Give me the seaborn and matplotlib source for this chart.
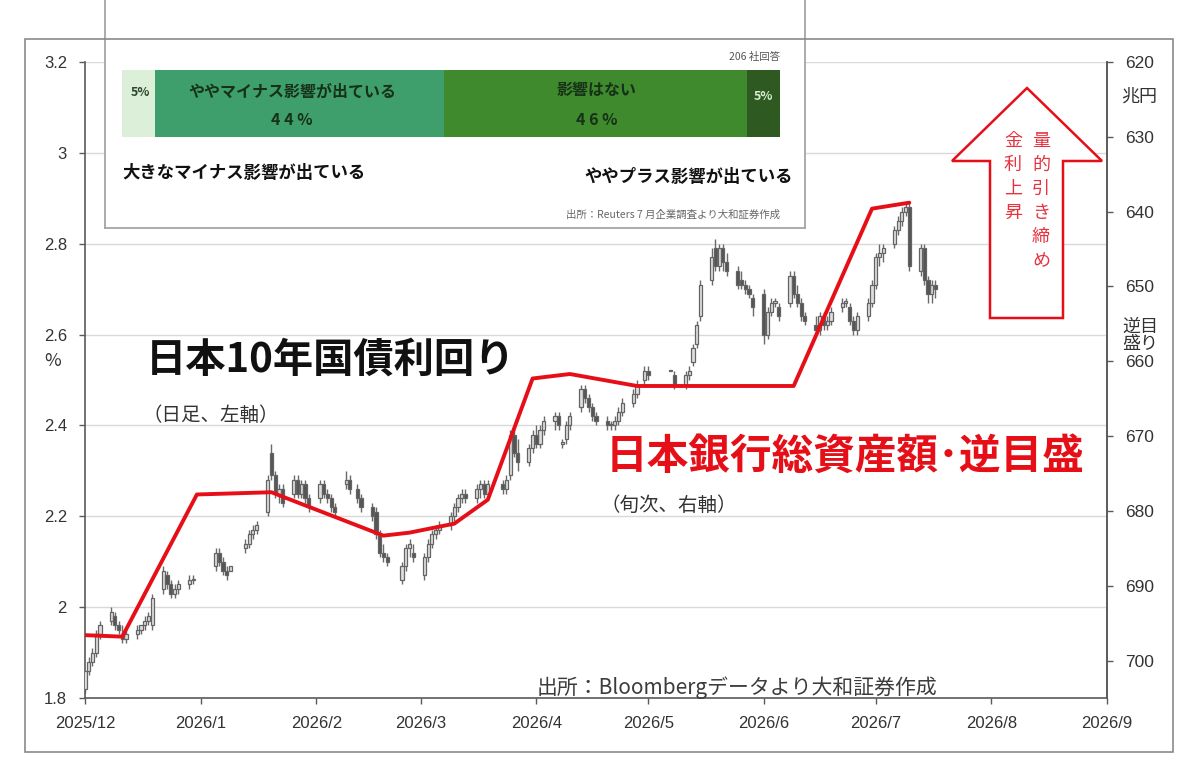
import pandas as pd
import matplotlib
matplotlib.use("Agg")
import matplotlib.pyplot as plt
import matplotlib.dates as mdates
from matplotlib.patches import Rectangle, Polygon
import seaborn as sns

sns.set_theme(style="ticks")
plt.rcParams["font.family"] = ["Noto Sans CJK JP", "DejaVu Sans"]

# %% data: JGB 10y yield, daily candles (Dec 2025 - Jul 2026)
holidays = ["2025-12-31", "2026-01-01", "2026-01-02", "2026-01-12", "2026-02-11",
            "2026-02-23", "2026-03-20", "2026-04-29", "2026-05-04", "2026-05-05",
            "2026-05-06"]

opens = [
    1.82, 1.86, 1.88, 1.90, 1.94, 1.97, 1.98, 1.96, 1.94, 1.93, 1.94, 1.95, 1.96, 1.97, 1.96,
    2.04, 2.07, 2.05, 2.03, 2.04, 2.05, 2.06,
    2.09, 2.12, 2.10, 2.08, 2.08, 2.13, 2.14, 2.16, 2.17, 2.21, 2.34, 2.29, 2.25, 2.26,
    2.25, 2.28, 2.25, 2.27, 2.24,
    2.24, 2.27, 2.25, 2.24, 2.22, 2.27, 2.28, 2.26, 2.24, 2.22, 2.21, 2.16, 2.12, 2.11,
    2.06, 2.09, 2.13, 2.12,
    2.07, 2.11, 2.14, 2.16, 2.17, 2.18, 2.20, 2.22, 2.24, 2.25, 2.24, 2.26, 2.27, 2.25,
    2.27, 2.26, 2.29, 2.38, 2.34, 2.32, 2.35,
    2.38, 2.36, 2.39, 2.41, 2.42, 2.36, 2.37, 2.40, 2.44, 2.48, 2.46, 2.44, 2.42, 2.41,
    2.40, 2.40, 2.41, 2.43, 2.45, 2.47, 2.50,
    2.52, 2.52, 2.51, 2.49, 2.51, 2.54, 2.58, 2.64, 2.72, 2.79, 2.75, 2.79, 2.76, 2.74,
    2.72, 2.71, 2.70, 2.68,
    2.69, 2.60, 2.65, 2.67, 2.66, 2.67, 2.73, 2.69, 2.67, 2.64, 2.62, 2.61, 2.64, 2.62,
    2.63, 2.66, 2.67, 2.66, 2.63, 2.61, 2.64, 2.67,
    2.71, 2.77, 2.78, 2.80, 2.83, 2.85, 2.87, 2.88, 2.74, 2.79, 2.72, 2.69, 2.71,
]
highs = [
    1.86, 1.89, 1.91, 1.95, 1.97, 2.00, 1.99, 1.97, 1.96, 1.95, 1.96, 1.96, 1.98, 1.99, 2.03,
    2.09, 2.08, 2.06, 2.05, 2.06, 2.07, 2.07,
    2.13, 2.13, 2.11, 2.09, 2.09, 2.15, 2.17, 2.18, 2.19, 2.29, 2.36, 2.30, 2.27, 2.27,
    2.29, 2.29, 2.28, 2.28, 2.25,
    2.28, 2.28, 2.26, 2.25, 2.23, 2.30, 2.29, 2.27, 2.25, 2.23, 2.22, 2.17, 2.14, 2.12,
    2.10, 2.14, 2.15, 2.14,
    2.12, 2.15, 2.17, 2.18, 2.19, 2.21, 2.23, 2.25, 2.26, 2.26, 2.27, 2.28, 2.28, 2.28,
    2.28, 2.29, 2.39, 2.40, 2.37, 2.36, 2.39,
    2.40, 2.40, 2.42, 2.43, 2.43, 2.37, 2.41, 2.43, 2.49, 2.49, 2.47, 2.45, 2.43, 2.42,
    2.41, 2.42, 2.44, 2.46, 2.48, 2.50, 2.53,
    2.53, 2.52, 2.52, 2.52, 2.53, 2.58, 2.63, 2.72, 2.79, 2.81, 2.80, 2.80, 2.78, 2.75,
    2.74, 2.72, 2.71, 2.69,
    2.70, 2.66, 2.68, 2.68, 2.67, 2.74, 2.74, 2.71, 2.68, 2.65, 2.64, 2.65, 2.65, 2.64,
    2.66, 2.68, 2.68, 2.67, 2.64, 2.65, 2.68, 2.72,
    2.78, 2.80, 2.80, 2.84, 2.86, 2.88, 2.89, 2.89, 2.80, 2.80, 2.73, 2.72, 2.72,
]
lows = [
    1.81, 1.85, 1.87, 1.89, 1.93, 1.96, 1.95, 1.94, 1.92, 1.92, 1.93, 1.94, 1.95, 1.96, 1.95,
    2.03, 2.04, 2.02, 2.02, 2.03, 2.04, 2.05,
    2.08, 2.09, 2.07, 2.06, 2.08, 2.12, 2.13, 2.15, 2.16, 2.20, 2.28, 2.24, 2.23, 2.22,
    2.24, 2.24, 2.24, 2.23, 2.21,
    2.23, 2.24, 2.23, 2.21, 2.20, 2.26, 2.25, 2.23, 2.21, 2.19, 2.15, 2.11, 2.10, 2.09,
    2.05, 2.08, 2.11, 2.10,
    2.06, 2.10, 2.13, 2.15, 2.16, 2.17, 2.19, 2.21, 2.23, 2.23, 2.23, 2.24, 2.24, 2.25,
    2.25, 2.25, 2.28, 2.33, 2.30, 2.31, 2.34,
    2.35, 2.35, 2.38, 2.39, 2.39, 2.35, 2.36, 2.39, 2.43, 2.45, 2.43, 2.41, 2.40, 2.39,
    2.39, 2.39, 2.40, 2.42, 2.44, 2.46, 2.49,
    2.50, 2.52, 2.48, 2.48, 2.50, 2.53, 2.57, 2.63, 2.71, 2.74, 2.74, 2.74, 2.73, 2.70,
    2.70, 2.69, 2.68, 2.64,
    2.58, 2.59, 2.64, 2.66, 2.63, 2.66, 2.68, 2.66, 2.63, 2.62, 2.60, 2.60, 2.61, 2.61,
    2.62, 2.65, 2.66, 2.62, 2.60, 2.60, 2.63, 2.66,
    2.70, 2.75, 2.76, 2.79, 2.82, 2.84, 2.86, 2.74, 2.73, 2.71, 2.67, 2.67, 2.68,
]
closes = [
    1.86, 1.88, 1.90, 1.94, 1.96, 1.99, 1.96, 1.95, 1.93, 1.94, 1.95, 1.96, 1.97, 1.98, 2.02,
    2.08, 2.05, 2.03, 2.04, 2.05, 2.06, 2.06,
    2.12, 2.10, 2.08, 2.07, 2.09, 2.14, 2.16, 2.17, 2.18, 2.28, 2.29, 2.25, 2.26, 2.23,
    2.28, 2.25, 2.27, 2.24, 2.22,
    2.27, 2.25, 2.24, 2.22, 2.21, 2.28, 2.26, 2.24, 2.22, 2.20, 2.16, 2.12, 2.11, 2.10,
    2.09, 2.13, 2.14, 2.11,
    2.11, 2.14, 2.16, 2.17, 2.18, 2.20, 2.22, 2.24, 2.25, 2.24, 2.26, 2.27, 2.25, 2.27,
    2.26, 2.28, 2.38, 2.34, 2.32, 2.35, 2.38,
    2.36, 2.39, 2.41, 2.42, 2.40, 2.36, 2.40, 2.42, 2.48, 2.46, 2.44, 2.42, 2.41, 2.40,
    2.40, 2.41, 2.43, 2.45, 2.47, 2.49, 2.52,
    2.51, 2.52, 2.49, 2.51, 2.52, 2.57, 2.62, 2.71, 2.77, 2.75, 2.79, 2.76, 2.74, 2.71,
    2.71, 2.70, 2.69, 2.66,
    2.60, 2.65, 2.67, 2.67, 2.64, 2.73, 2.69, 2.67, 2.64, 2.63, 2.61, 2.64, 2.62, 2.63,
    2.65, 2.67, 2.67, 2.63, 2.61, 2.64, 2.67, 2.71,
    2.77, 2.78, 2.79, 2.83, 2.85, 2.87, 2.88, 2.75, 2.79, 2.72, 2.69, 2.71, 2.70,
]

# %% data: BOJ total assets (10-day, trillion yen, reversed axis)
boj_dates = ["2025-12-01", "2025-12-11", "2025-12-31", "2026-01-20", "2026-01-22",
             "2026-02-19", "2026-02-26", "2026-03-10", "2026-03-19", "2026-03-31",
             "2026-04-10", "2026-04-28", "2026-06-09", "2026-06-30", "2026-07-10"]
boj_assets = [696.6, 696.8, 677.8, 677.5, 677.9, 683.3, 682.9, 681.7, 678.5, 662.3,
              661.7, 663.3, 663.3, 639.6, 638.8]

# %% data: inset survey (Reuters July)
survey_shares = [5, 44, 46, 5]
survey_colors = ["#dcefd9", "#3e9f6c", "#3f8a2c", "#2e5a22"]

month_ticks = pd.date_range("2025-12-01", "2026-09-01", freq="MS")
left_ticks = [1.8, 2.0, 2.2, 2.4, 2.6, 2.8, 3.0, 3.2]
left_labels = ["1.8", "2", "2.2", "2.4", "2.6", "2.8", "3", "3.2"]
right_ticks = [620, 630, 640, 650, 660, 670, 680, 690, 700]

RED = "#e60f18"
W, H = 1200, 764


def fx(px):
    return px / W


def fy(py):
    return 1 - py / H


# %% figure
days = pd.bdate_range("2025-12-01", "2026-07-17")
days = days[~days.isin(pd.to_datetime(holidays))]
n = min(len(days), len(opens), len(highs), len(lows), len(closes))
df = pd.DataFrame({"date": days[:n], "o": opens[:n], "h": highs[:n],
                   "l": lows[:n], "c": closes[:n]})
df["x"] = mdates.date2num(df["date"])
df["up"] = df["c"] >= df["o"]

fig = plt.figure(figsize=(12, 7.64), dpi=100)
ax = fig.add_axes([fx(85), fy(698), fx(1107) - fx(85), fy(62) - fy(698)])

ax.vlines(df["x"], df["l"], df["h"], color="#6a6a6a", lw=1.0, zorder=2)
for up, face in [(True, "#dedede"), (False, "#555555")]:
    d = df[df["up"] == up]
    hgt = (d["c"] - d["o"]).abs().clip(lower=0.003)
    ax.bar(d["x"], hgt, bottom=d[["o", "c"]].min(axis=1), width=0.85,
           color=face, edgecolor="#646464", linewidth=0.9, zorder=3)

xt = mdates.date2num(month_ticks)
ax.set_xlim(xt[0], xt[-1])
ax.set_xticks(xt)
ax.set_xticklabels([f"{d.year}/{d.month}" for d in month_ticks])
ax.set_ylim(1.8, 3.2)
ax.set_yticks(left_ticks)
ax.set_yticklabels(left_labels)
ax.yaxis.grid(True, color="#d9d9d9", lw=1)
ax.set_axisbelow(True)
ax.spines["top"].set_visible(False)
for s in ["left", "bottom", "right"]:
    ax.spines[s].set_color("#5a5a5a")
    ax.spines[s].set_linewidth(1.2)
ax.tick_params(axis="both", direction="out", length=4, width=1, color="#5a5a5a",
               labelsize=12, labelcolor="#333333", labelfontfamily="Liberation Sans")
ax.tick_params(axis="x", pad=9)
ax.tick_params(axis="y", pad=9)

ax2 = ax.twinx()
sns.lineplot(x=mdates.date2num(pd.to_datetime(boj_dates)), y=boj_assets, ax=ax2,
             color=RED, lw=2.8, sort=False, zorder=5)
ax2.set_ylim(705, 620)
ax2.set_yticks(right_ticks)
for s in ["top", "left", "bottom"]:
    ax2.spines[s].set_visible(False)
ax2.spines["right"].set_color("#5a5a5a")
ax2.spines["right"].set_linewidth(1.2)
ax2.tick_params(axis="y", direction="out", length=4, width=1, color="#5a5a5a", pad=9,
                labelsize=12.5, labelcolor="#333333", labelfontfamily="Liberation Sans")
ax2.set_xlim(xt[0], xt[-1])

# outer frame
fig.patches.append(Rectangle((fx(25), fy(752)), fx(1173) - fx(25), fy(39) - fy(752),
                             transform=fig.transFigure, fill=False,
                             edgecolor="#8a8a8a", lw=1.2, zorder=0))

# up arrow
arrow_px = [(1027, 88), (1102, 161), (1063, 161), (1063, 318), (990, 318),
            (990, 161), (952, 161)]
fig.patches.append(Polygon([(fx(a), fy(b)) for a, b in arrow_px], closed=True,
                           transform=fig.transFigure, facecolor="white",
                           edgecolor=RED, lw=1.8, zorder=2))
for i, ch in enumerate("量的引き締め"):
    fig.text(fx(1041), fy(141 + 24 * i), ch, color="#e8323f", fontsize=13,
             ha="center", va="center", zorder=4)
for i, ch in enumerate("金利上昇"):
    fig.text(fx(1013), fy(141 + 24 * i), ch, color="#e8323f", fontsize=13,
             ha="center", va="center", zorder=4)

# main annotations
fig.text(fx(146), fy(360), "日本10年国債利回り", fontsize=29, fontweight="bold",
         color="#111111", va="center")
fig.text(fx(142), fy(415), "（日足、左軸）", fontsize=14, color="#333333", va="center")
fig.text(fx(606), fy(457), "日本銀行総資産額･逆目盛", fontsize=30, fontweight="bold",
         color=RED, va="center")
fig.text(fx(600), fy(505), "（旬次、右軸）", fontsize=14, color="#333333", va="center")
fig.text(fx(537), fy(688), "出所：Bloombergデータより大和証券作成", fontsize=15,
         color="#3c3c3c", va="center")
fig.text(fx(53), fy(361), "%", fontsize=13, color="#333333", ha="center", va="center")
fig.text(fx(1139), fy(97), "兆円", fontsize=13, color="#333333", ha="center", va="center")
fig.text(fx(1140), fy(335), "逆目\n盛り", fontsize=13, color="#333333", ha="center",
         va="center", linespacing=0.95)

# %% inset survey box
box = fig.add_axes([fx(105), fy(228), fx(805) - fx(105), fy(-5) - fy(228)])
box.set_xticks([])
box.set_yticks([])
box.set_facecolor("white")
for s in box.spines.values():
    s.set_color("#a5a5a5")
    s.set_linewidth(1.3)

bar = fig.add_axes([fx(122), fy(137), fx(780) - fx(122), fy(70) - fy(137)])
lefts = [sum(survey_shares[:i]) for i in range(len(survey_shares))]
bar.barh([0] * len(survey_shares), survey_shares, left=lefts, height=1.0,
         color=survey_colors, edgecolor="none")
bar.set_xlim(0, sum(survey_shares))
bar.set_ylim(-0.5, 0.5)
bar.axis("off")

fig.text(fx(780), fy(57), "206 社回答", fontsize=7.5, color="#555555", ha="right",
         va="center")
fig.text(fx(140), fy(93), f"{survey_shares[0]}%", fontsize=9, fontweight="bold",
         color="#2b472b", ha="center", va="center")
fig.text(fx(292), fy(92), "ややマイナス影響が出ている", fontsize=11.5, fontweight="bold",
         color="#17301a", ha="center", va="center")
fig.text(fx(292), fy(120), f"{survey_shares[1] // 10} {survey_shares[1] % 10} %",
         fontsize=11.5, fontweight="bold", color="#17301a", ha="center", va="center")
fig.text(fx(597), fy(90), "影響はない", fontsize=11.5, fontweight="bold",
         color="#17301a", ha="center", va="center")
fig.text(fx(597), fy(120), f"{survey_shares[2] // 10} {survey_shares[2] % 10} %",
         fontsize=11.5, fontweight="bold", color="#17301a", ha="center", va="center")
fig.text(fx(763), fy(96), f"{survey_shares[3]}%", fontsize=9, fontweight="bold",
         color="#d6ecce", ha="center", va="center")
fig.text(fx(122), fy(173), "大きなマイナス影響が出ている", fontsize=12.5,
         fontweight="bold", color="#111111", va="center")
fig.text(fx(793), fy(177), "ややプラス影響が出ている", fontsize=12.5,
         fontweight="bold", color="#111111", ha="right", va="center")
fig.text(fx(780), fy(215), "出所：Reuters 7 月企業調査より大和証券作成", fontsize=7.5,
         color="#666666", ha="right", va="center")

fig.savefig("out.png", dpi=100)
